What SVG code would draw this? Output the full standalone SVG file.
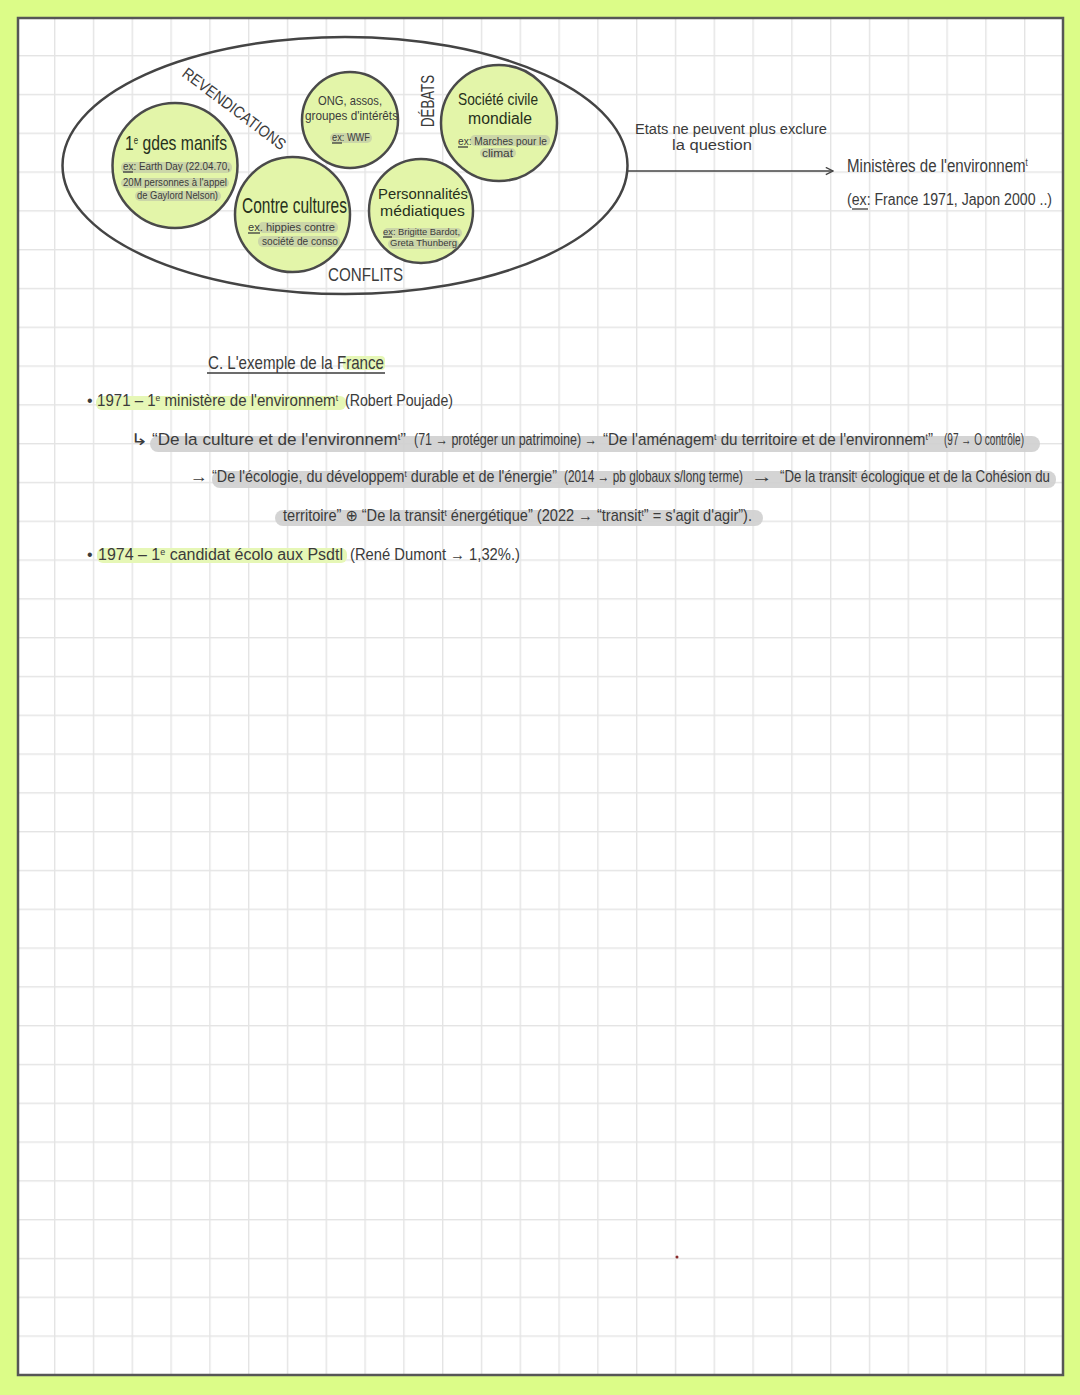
<svg xmlns="http://www.w3.org/2000/svg" width="1080" height="1395" viewBox="0 0 1080 1395">
<style>
.hw{font-family:"Liberation Sans","DejaVu Sans",sans-serif;fill:#3b3b3b}
.tt{font-family:"Liberation Sans","DejaVu Sans",sans-serif;fill:#27301c}
.node{fill:#e3f5a9;stroke:#4a4a4a;stroke-width:2.5}
.hlg{fill:#b8bba8;opacity:.55}
.hlg2{fill:#cfcfcf;opacity:.9}
.hll{fill:#e6f7b6}
.ul{stroke:#3b3b3b;stroke-width:1.3}
</style>
<defs>
<pattern id="grid" patternUnits="userSpaceOnUse" x="15.2" y="16.2" width="38.8" height="38.8">
<rect x="0" y="0" width="38.8" height="1.4" fill="#e4e4e4"/>
<rect x="0" y="0" width="1.4" height="38.8" fill="#e4e4e4"/>
</pattern>
<marker id="arr" viewBox="0 0 10 10" refX="9" refY="5" markerWidth="9" markerHeight="9" markerUnits="userSpaceOnUse" orient="auto">
<path d="M1 1L9 5L1 9" fill="none" stroke="#444" stroke-width="1.5"/>
</marker>
</defs>
<rect width="1080" height="1395" fill="#dcfc88"/>
<rect x="18" y="18" width="1045" height="1357" fill="#ffffff"/>
<rect x="18" y="18" width="1045" height="1357" fill="url(#grid)"/>
<rect x="18" y="18" width="1045" height="1357" fill="none" stroke="#565656" stroke-width="2.5"/>

<g id="ellipse-group">
<ellipse cx="345" cy="165.5" rx="282.5" ry="128.5" fill="none" stroke="#444" stroke-width="2.5"/>
<text class="hw" font-size="16" transform="translate(231 113) rotate(37) scale(0.87 1)" text-anchor="middle" textLength="143.7" lengthAdjust="spacingAndGlyphs" fill="#4a4a4a">REVENDICATIONS</text>
<text class="hw" font-size="18" transform="translate(434 101) rotate(-90) scale(0.72 1)" text-anchor="middle" textLength="72.2" lengthAdjust="spacingAndGlyphs" fill="#4a4a4a">DÉBATS</text>
<text class="hw" font-size="19" transform="translate(328 281) scale(0.8 1)" textLength="93.75" lengthAdjust="spacingAndGlyphs" fill="#4a4a4a">CONFLITS</text>
</g>

<g id="node-manifs">
<circle class="node" cx="175" cy="165.5" r="62.5"/>
<rect class="hlg" x="121" y="162" width="111" height="11" rx="5"/>
<rect class="hlg" x="121" y="178" width="108" height="10" rx="5"/>
<rect class="hlg" x="135" y="191" width="86" height="10" rx="5"/>
<text class="tt" font-size="20" transform="translate(125 150) scale(0.785 1)" textLength="130" lengthAdjust="spacingAndGlyphs">1<tspan baseline-shift="super" font-size="10">e</tspan> gdes manifs</text>
<text class="hw" x="123" y="170" font-size="10" textLength="107" lengthAdjust="spacingAndGlyphs">ex: Earth Day (22.04.70,</text>
<text class="hw" x="123" y="186" font-size="10" textLength="104" lengthAdjust="spacingAndGlyphs">20M personnes à l'appel</text>
<text class="hw" x="137" y="199" font-size="10" textLength="81" lengthAdjust="spacingAndGlyphs">de Gaylord Nelson)</text>
<line class="ul" x1="123" y1="172" x2="133" y2="172"/>
</g>

<g id="node-ong">
<circle class="node" cx="350" cy="120" r="48"/>
<rect class="hlg" x="330" y="133" width="42" height="10" rx="5"/>
<text class="hw" font-size="13" transform="translate(318 105) scale(0.86 1)" textLength="74.4" lengthAdjust="spacingAndGlyphs">ONG, assos,</text>
<text class="hw" font-size="13" transform="translate(305 120) scale(0.904 1)" textLength="102.9" lengthAdjust="spacingAndGlyphs">groupes d'intérêts</text>
<text class="hw" x="332" y="141" font-size="10" textLength="38" lengthAdjust="spacingAndGlyphs">ex: WWF</text>
<line class="ul" x1="332" y1="143" x2="342" y2="143"/>
</g>

<g id="node-societe">
<circle class="node" cx="499" cy="123" r="58"/>
<rect class="hlg" x="470" y="135" width="80" height="11" rx="5"/>
<rect class="hlg" x="480" y="148" width="36" height="10" rx="5"/>
<text class="tt" font-size="16" transform="translate(458 105) scale(0.857 1)" textLength="93.4" lengthAdjust="spacingAndGlyphs">Société civile</text>
<text class="tt" x="468" y="124" font-size="16" textLength="64" lengthAdjust="spacingAndGlyphs">mondiale</text>
<text class="hw" x="458" y="145" font-size="10" textLength="89" lengthAdjust="spacingAndGlyphs">ex: Marches pour le</text>
<text class="hw" x="482" y="157" font-size="10" textLength="31" lengthAdjust="spacingAndGlyphs">climat</text>
<line class="ul" x1="458" y1="147" x2="468" y2="147"/>
</g>

<g id="node-contre">
<circle class="node" cx="292.5" cy="214.5" r="57.5"/>
<rect class="hlg" x="258" y="222" width="80" height="11" rx="5"/>
<rect class="hlg" x="258" y="236" width="82" height="11" rx="5"/>
<text class="tt" font-size="22" transform="translate(242 213) scale(0.704 1)" textLength="149.1" lengthAdjust="spacingAndGlyphs">Contre cultures</text>
<text class="hw" x="248" y="231" font-size="11" textLength="87" lengthAdjust="spacingAndGlyphs">ex. hippies contre</text>
<text class="hw" font-size="11" transform="translate(262 245) scale(0.92 1)" textLength="82.6" lengthAdjust="spacingAndGlyphs">société de conso</text>
<line class="ul" x1="248" y1="233" x2="260" y2="233"/>
</g>

<g id="node-perso">
<circle class="node" cx="421" cy="211" r="52"/>
<rect class="hlg" x="383" y="228" width="79" height="10" rx="5"/>
<rect class="hlg" x="388" y="239" width="71" height="10" rx="5"/>
<text class="tt" x="378" y="199" font-size="15" textLength="90" lengthAdjust="spacingAndGlyphs">Personnalités</text>
<text class="tt" x="380" y="216" font-size="15" textLength="85" lengthAdjust="spacingAndGlyphs">médiatiques</text>
<text class="hw" x="383" y="235" font-size="9" textLength="77" lengthAdjust="spacingAndGlyphs">ex: Brigitte Bardot,</text>
<text class="hw" x="390" y="246" font-size="9" textLength="67" lengthAdjust="spacingAndGlyphs">Greta Thunberg</text>
<line class="ul" x1="383" y1="237" x2="392" y2="237"/>
</g>

<g id="connectors">
<line x1="627" y1="171" x2="833" y2="171" stroke="#444" stroke-width="1.5" marker-end="url(#arr)"/>
</g>

<g id="label-etats">
<text class="hw" x="635" y="134" font-size="14" textLength="192" lengthAdjust="spacingAndGlyphs">Etats ne peuvent plus exclure</text>
<text class="hw" x="672" y="150" font-size="14" textLength="80" lengthAdjust="spacingAndGlyphs">la question</text>
</g>

<g id="node-ministeres">
<text class="hw" font-size="19" transform="translate(847 172) scale(0.8 1)" textLength="226" lengthAdjust="spacingAndGlyphs">Ministères de l'environnem<tspan baseline-shift="super" font-size="10">t</tspan></text>
<text class="hw" font-size="16" transform="translate(847 205) scale(0.883 1)" textLength="232.2" lengthAdjust="spacingAndGlyphs">(ex: France 1971, Japon 2000 ..)</text>
<line class="ul" x1="852" y1="209" x2="868" y2="209"/>
</g>

<g id="notes">
<rect class="hll" x="343" y="356" width="42" height="14" rx="4"/>
<text class="hw" font-size="18" transform="translate(208 369) scale(0.84 1)" textLength="209.5" lengthAdjust="spacingAndGlyphs">C. L'exemple de la France</text>
<line class="ul" x1="207" y1="373" x2="385" y2="373"/>

<rect class="hll" x="96" y="396" width="250" height="14" rx="6"/>
<text class="hw" x="87" y="406" font-size="16">•</text>
<text class="hw" font-size="16" transform="translate(97 406) scale(0.943 1)" textLength="255.6" lengthAdjust="spacingAndGlyphs">1971 – 1<tspan baseline-shift="super" font-size="9">e</tspan> ministère de l'environnem<tspan baseline-shift="super" font-size="9">t</tspan></text>
<text class="hw" font-size="16" transform="translate(345 406) scale(0.887 1)" textLength="121.8" lengthAdjust="spacingAndGlyphs">(Robert Poujade)</text>

<rect class="hlg2" x="150" y="436" width="890" height="16" rx="8"/>
<text class="hw" x="130" y="445" font-size="16" textLength="18" lengthAdjust="spacingAndGlyphs">↳</text>
<text class="hw" x="152" y="445" font-size="17" textLength="254" lengthAdjust="spacingAndGlyphs">“De la culture et de l'environnem<tspan baseline-shift="super" font-size="9">t</tspan>”</text>
<text class="hw" font-size="16" transform="translate(414 445) scale(0.797 1)" textLength="229.6" lengthAdjust="spacingAndGlyphs">(71 → protéger un patrimoine) →</text>
<text class="hw" font-size="16" transform="translate(603 445) scale(0.951 1)" textLength="347" lengthAdjust="spacingAndGlyphs">“De l'aménagem<tspan baseline-shift="super" font-size="9">t</tspan> du territoire et de l'environnem<tspan baseline-shift="super" font-size="9">t</tspan>”</text>
<text class="hw" font-size="16" transform="translate(944 445) scale(0.642 1)" textLength="124.6" lengthAdjust="spacingAndGlyphs">(97 → O contrôle)</text>

<rect class="hlg2" x="212" y="471" width="844" height="17" rx="8"/>
<text class="hw" x="190" y="482" font-size="16" textLength="18" lengthAdjust="spacingAndGlyphs">→</text>
<text class="hw" font-size="16" transform="translate(212 482) scale(0.897 1)" textLength="384.6" lengthAdjust="spacingAndGlyphs">“De l'écologie, du développem<tspan baseline-shift="super" font-size="9">t</tspan> durable et de l'énergie”</text>
<text class="hw" font-size="16" transform="translate(564 482) scale(0.748 1)" textLength="239.3" lengthAdjust="spacingAndGlyphs">(2014 → pb globaux s/long terme)</text>
<text class="hw" x="751" y="482" font-size="16" textLength="22" lengthAdjust="spacingAndGlyphs">→</text>
<text class="hw" font-size="16" transform="translate(780 482) scale(0.818 1)" textLength="330" lengthAdjust="spacingAndGlyphs">“De la transit<tspan baseline-shift="super" font-size="9">t</tspan> écologique et de la Cohésion du</text>

<rect class="hlg2" x="275" y="510" width="488" height="16" rx="8"/>
<text class="hw" font-size="16" transform="translate(283 521) scale(0.917 1)" textLength="511.5" lengthAdjust="spacingAndGlyphs">territoire” ⊕ “De la transit<tspan baseline-shift="super" font-size="9">t</tspan> énergétique” (2022 → “transit<tspan baseline-shift="super" font-size="9">t</tspan>” = s'agit d'agir”).</text>

<rect class="hll" x="97" y="548" width="250" height="15" rx="6"/>
<text class="hw" x="87" y="560" font-size="16">•</text>
<text class="hw" x="98" y="560" font-size="16" textLength="245" lengthAdjust="spacingAndGlyphs">1974 – 1<tspan baseline-shift="super" font-size="9">e</tspan> candidat écolo aux Psdtl</text>
<text class="hw" font-size="16" transform="translate(350 560) scale(0.937 1)" textLength="181.4" lengthAdjust="spacingAndGlyphs">(René Dumont → 1,32%.)</text>
</g>

<circle cx="677" cy="1257" r="1.5" fill="#8a2a2a"/>
</svg>
